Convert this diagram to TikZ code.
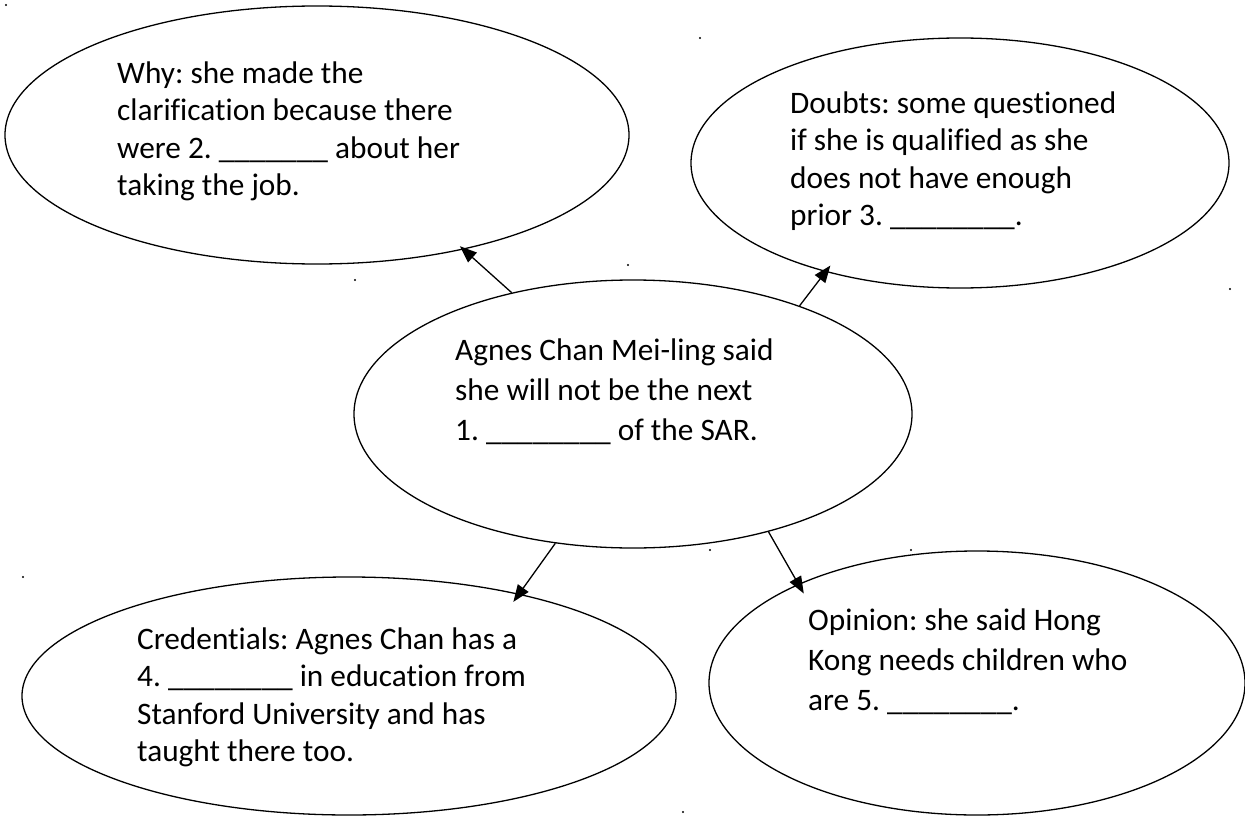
\documentclass[tikz,border=0pt]{standalone}
\usepackage{fontspec}
\setmainfont{Carlito}[Ligatures={NoCommon}]
\usetikzlibrary{shapes.geometric,arrows.meta}
\frenchspacing

\tikzset{
	bubble/.style={draw, ellipse, line width=1.3pt, inner sep=0pt},
	blurb/.style={anchor=base west, inner sep=0pt,
		font=\fontsize{31.3}{37.5}\selectfont},
	wideblurb/.style={blurb, font=\fontsize{31.3}{40}\selectfont},
	link/.style={->, line width=1.3pt, shorten >=-8pt},
}

\begin{document}
\begin{tikzpicture}[x=1pt, y=-1pt, >={Triangle[length=17pt,width=13pt]}]
	\useasboundingbox (0,0) rectangle (1245,816);

	% the five bubbles
	\node [bubble, minimum width=624pt, minimum height=258pt] (why) at (317,135) {};
	\node [bubble, minimum width=538pt, minimum height=250pt] (doubts) at (960,163) {};
	\node [bubble, minimum width=558pt, minimum height=268pt] (main) at (633,414) {};
	\node [bubble, minimum width=654pt, minimum height=238pt] (cred) at (349,696) {};
	\node [bubble, minimum width=536pt, minimum height=264pt] (opin) at (977,683) {};

	% their texts
	\node [blurb] (whyText) at (117,83) {\parbox[t]{420pt}{%
		Why: she made the\\clarification because there\\%
		were 2. \_\_\_\_\_\_\_ about her\\taking the job.}};
	\node [blurb] (doubtsText) at (790,113) {\parbox[t]{420pt}{%
		Doubts: some questioned\\if she is qualified as she\\%
		does not have enough\\prior 3. \_\_\_\_\_\_\_\_.}};
	\node [wideblurb] (mainText) at (455,360) {\parbox[t]{420pt}{%
		Agnes Chan Mei-ling said\\she will not be the next\\%
		1. \_\_\_\_\_\_\_\_ of the SAR.}};
	\node [blurb] (credText) at (137,649) {\parbox[t]{420pt}{%
		Credentials: Agnes Chan has a\\4. \_\_\_\_\_\_\_\_ in education from\\%
		Stanford University and has\\taught there too.}};
	\node [wideblurb] (opinText) at (808,630) {\parbox[t]{420pt}{%
		Opinion: she said Hong\\Kong needs children who\\%
		are 5. \_\_\_\_\_\_\_\_.}};

	% arrows out of the middle bubble
	\draw[link, shorten >=-5pt] (main.135) -- (why.-38);
	\draw[link] (main.33) -- (doubts.-141);
	\draw[link, shorten >=-10pt] (main.-121) -- (cred.31);
	\draw[link, shorten >=-11pt] (main.-41) -- (opin.151);

	% stray specks
	\foreach \sx/\sy in {6/5, 355/280, 628/265, 700/38, 1230/289,
		23/577, 710/550, 911/550, 683/812}
		\fill (\sx,\sy) circle (1.2pt);
\end{tikzpicture}
\end{document}
